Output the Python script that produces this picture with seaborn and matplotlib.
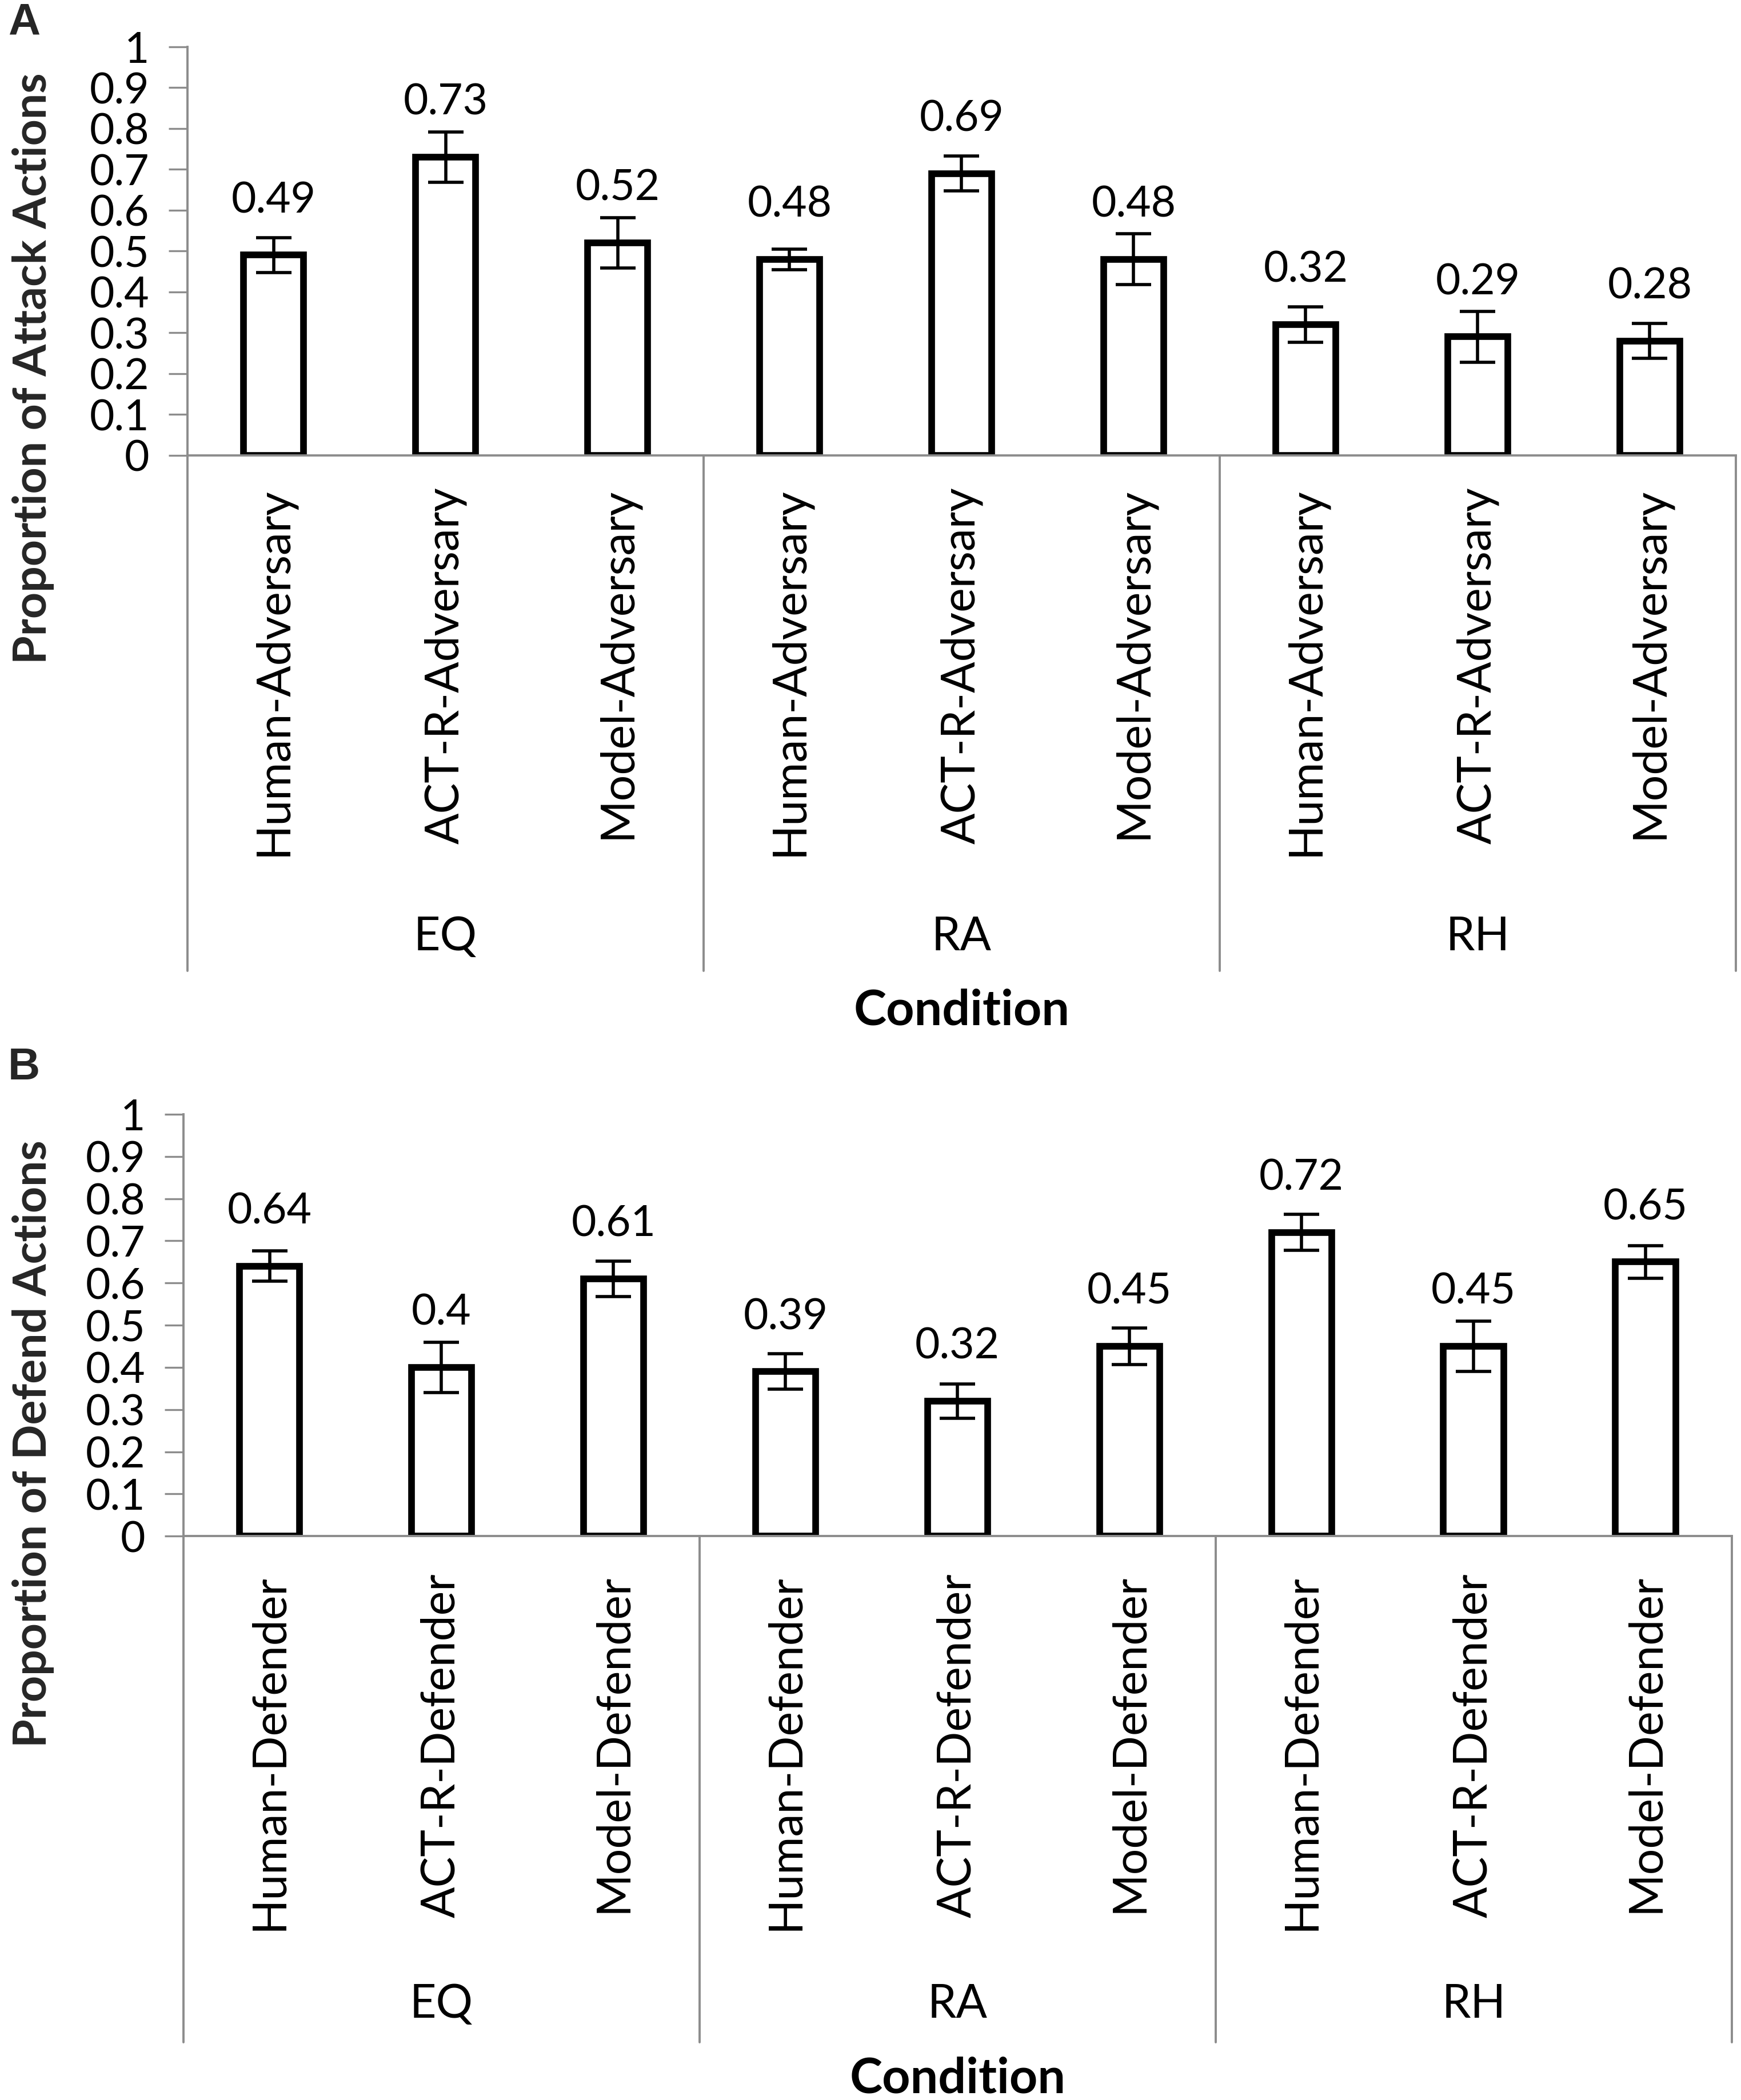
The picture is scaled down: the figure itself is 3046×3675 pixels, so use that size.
import pandas as pd
import numpy as np
import matplotlib
matplotlib.use('Agg')
import matplotlib.pyplot as plt
import matplotlib.transforms as mtransforms
import seaborn as sns

# --- data ---
conditions = ['EQ', 'RA', 'RH']
adversary_types = ['Human-Adversary', 'ACT-R-Adversary', 'Model-Adversary']
defender_types = ['Human-Defender', 'ACT-R-Defender', 'Model-Defender']

attack_means = [0.49, 0.73, 0.52, 0.48, 0.69, 0.48, 0.32, 0.29, 0.28]
attack_err = [0.042, 0.061, 0.062, 0.025, 0.043, 0.062, 0.043, 0.062, 0.043]

defend_means = [0.64, 0.40, 0.61, 0.39, 0.32, 0.45, 0.72, 0.45, 0.65]
defend_err = [0.036, 0.060, 0.042, 0.042, 0.041, 0.043, 0.043, 0.060, 0.039]

yticks = [0, 0.1, 0.2, 0.3, 0.4, 0.5, 0.6, 0.7, 0.8, 0.9, 1]
ytick_labels = ['0', '0.1', '0.2', '0.3', '0.4', '0.5', '0.6', '0.7', '0.8', '0.9', '1']

sns.set_theme(style='white')
plt.rcParams['font.family'] = ['Lato', 'DejaVu Sans']

AXIS_GREY = '#8c8c8c'


def make_frame(types, means, errs):
    rows = []
    for g, cond in enumerate(conditions):
        for k, t in enumerate(types):
            i = g * len(types) + k
            rows.append({'key': cond + ' ' + t, 'cond': cond, 'type': t,
                         'mean': means[i], 'err': errs[i]})
    return pd.DataFrame(rows)


def draw_panel(ax, df, label_top, group_y, sep_bottom, cond_y):
    sns.barplot(data=df, x='key', y='mean', order=list(df['key']), ax=ax,
                color='white', edgecolor='black', linewidth=4.2, width=0.35,
                errorbar=None, saturation=1)
    ax.errorbar(np.arange(len(df)), df['mean'], yerr=df['err'], fmt='none',
                ecolor='black', elinewidth=2.0, capsize=11, capthick=2.0, zorder=5)
    ax.bar_label(ax.containers[0], labels=[f"{v:g}" for v in df['mean']],
                 padding=22, fontsize=27, color='black')

    ax.set_xlim(-0.5, len(df) - 0.5)
    ax.set_ylim(0, 1)
    ax.set_yticks(yticks)
    ax.set_yticklabels(ytick_labels, fontsize=27, color='black')
    ax.tick_params(axis='y', direction='out', length=12, width=1.2,
                   color=AXIS_GREY, pad=12, left=True)
    ax.set_xticks([])
    ax.set_xlabel('')
    ax.set_ylabel('')
    for s in ['top', 'right']:
        ax.spines[s].set_visible(False)
    for s in ['left', 'bottom']:
        ax.spines[s].set_color(AXIS_GREY)
        ax.spines[s].set_linewidth(1.4)

    trans = mtransforms.blended_transform_factory(ax.transData, ax.transAxes)
    n = len(adversary_types)
    # category labels, rotated
    for i, t in enumerate(df['type']):
        ax.text(i, label_top, t, rotation=90, ha='center', va='top',
                fontsize=29, transform=trans, color='black')
    # group separators and group names
    for g, cond in enumerate(conditions):
        ax.text(g * n + (n - 1) / 2, group_y, cond, ha='center', va='center',
                fontsize=29, transform=trans, color='black')
    for b in range(len(conditions) + 1):
        xb = b * n - 0.5
        ax.plot([xb, xb], [0, sep_bottom], transform=trans, color=AXIS_GREY,
                lw=1.4, clip_on=False)
    ax.text(0.5, cond_y, 'Condition', ha='center', va='center', fontsize=31,
            fontweight='bold', transform=ax.transAxes, color='black')


fig = plt.figure(figsize=(15.23, 18.375), dpi=200)

# Panel A
axA = fig.add_axes([0.1077, 0.7832, 0.8893, 0.1945])
dfA = make_frame(adversary_types, attack_means, attack_err)
draw_panel(axA, dfA, label_top=-0.078, group_y=-1.18,
           sep_bottom=-1.262, cond_y=-1.36)
fig.text(0.019, 0.8246, 'Proportion of Attack Actions', rotation=90,
         ha='center', va='center', fontsize=29, fontweight='bold')
fig.text(0.0138, 0.989, 'A', ha='center', va='center', fontsize=28,
         fontweight='bold', family=['Liberation Sans', 'DejaVu Sans'])

# Panel B
axB = fig.add_axes([0.1054, 0.2685, 0.8892, 0.2009])
dfB = make_frame(defender_types, defend_means, defend_err)
draw_panel(axB, dfB, label_top=-0.089, group_y=-1.11,
           sep_bottom=-1.20, cond_y=-1.286)
fig.text(0.019, 0.3125, 'Proportion of Defend Actions', rotation=90,
         ha='center', va='center', fontsize=29, fontweight='bold')
fig.text(0.0138, 0.4917, 'B', ha='center', va='center', fontsize=28,
         fontweight='bold', family=['Liberation Sans', 'DejaVu Sans'])

fig.savefig('out.png', dpi=200, facecolor='white')
